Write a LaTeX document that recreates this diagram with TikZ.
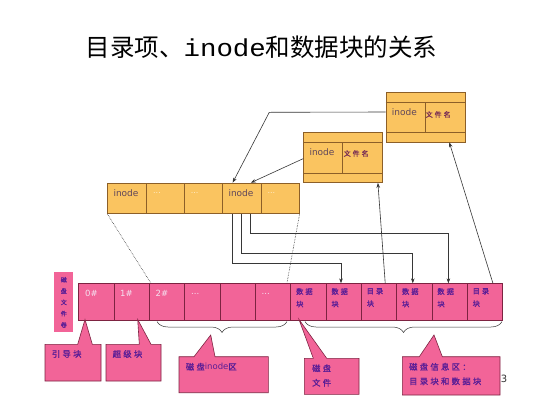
\documentclass[tikz,border=0pt]{standalone}
\usepackage{fontspec}
\newfontfamily\cjk{Noto Sans CJK SC}
\newfontfamily\cjks{Noto Sans CJK SC}[LetterSpace=28,FakeBold=1.2]
\newfontfamily\cjkb{Noto Sans CJK SC}[FakeBold=1]
\newfontfamily\lsans{DejaVu Sans}
\setmonofont{Liberation Mono}
\usetikzlibrary{arrows.meta,decorations.pathreplacing,calc}
\definecolor{pinkfill}{RGB}{242,100,152}
\definecolor{pinkdraw}{RGB}{125,35,65}
\definecolor{orfill}{RGB}{250,196,96}
\definecolor{ordraw}{RGB}{140,95,40}
\definecolor{purp}{RGB}{90,30,150}
\definecolor{maroon}{RGB}{120,45,85}
\definecolor{inodec}{RGB}{95,70,90}
\definecolor{lightt}{RGB}{245,225,240}
\definecolor{lighto}{RGB}{255,236,200}
\definecolor{linegray}{RGB}{55,55,55}
\begin{document}
\begin{tikzpicture}[x=1pt,y=-1pt,
  pcell/.style={draw=pinkdraw,fill=pinkfill,line width=0.6pt,minimum width=35.33pt,minimum height=36.7pt,inner sep=0pt,anchor=north west},
  ocell/.style={draw=ordraw,fill=orfill,line width=0.6pt,minimum width=38.34pt,minimum height=30.6pt,inner sep=0pt,anchor=north west},
  obox/.style={draw=ordraw,fill=orfill,line width=0.6pt,minimum width=79pt,minimum height=50pt,inner sep=0pt,anchor=north west},
  oline/.style={draw=ordraw,line width=0.6pt},
  callout/.style={draw=pinkdraw,fill=pinkfill,line width=0.6pt,line join=miter},
  numt/.style={font=\lsans\fontsize{8.5}{10}\selectfont,text=lightt,anchor=west,inner sep=0pt},
  blkt/.style={font=\cjks\fontsize{7.2}{12.5}\selectfont,text=purp,anchor=north west,align=left,inner sep=0pt},
  inodet/.style={font=\lsans\fontsize{9}{10}\selectfont,text=inodec,anchor=west,inner sep=0pt},
  dotst/.style={font=\lsans\fontsize{8}{10}\selectfont,text=lighto,anchor=west,inner sep=0pt},
  namet/.style={font=\cjks\fontsize{7}{8}\selectfont,text=maroon,anchor=west,inner sep=0pt},
  callt/.style={font=\cjks\fontsize{8.3}{14.5}\selectfont,text=purp,anchor=west,align=left,inner sep=0pt},
  conn/.style={draw=linegray,line width=0.6pt},
  arr/.style={conn,-{Stealth[length=5pt,width=3.6pt]}},
  dotl/.style={draw=linegray,line width=0.6pt,densely dotted},
  brc/.style={draw=linegray,line width=0.5pt,decorate,decoration={brace,mirror,amplitude=11pt}}]
\useasboundingbox (0,0) rectangle (540,405);
\fill[white] (0,0) rectangle (540,405);

% title
\node[font=\cjk\fontsize{24.5}{30}\selectfont,inner sep=0pt] (title) at (261.5,47)
  {目录项、\scalebox{1.12}[1]{\ttfamily inode}和数据块的关系};

% directory blocks (orange)
\node[obox] (d2) at (385.7,91.7) {};
\draw[oline] ([yshift=-10.3pt]d2.north west) -- ([yshift=-10.3pt]d2.north east);
\draw[oline] ([yshift=9.7pt]d2.south west) -- ([yshift=9.7pt]d2.south east);
\draw[oline] ([xshift=39.3pt,yshift=-10.3pt]d2.north west) -- ([xshift=39.3pt,yshift=9.7pt]d2.south west);
\node[inodet] (d2i) at (391.7,111.7) {inode};
\node[namet] (d2n) at (425.5,114.5) {文件名};

\node[obox] (d1) at (303.3,132.3) {};
\draw[oline] ([yshift=-10pt]d1.north west) -- ([yshift=-10pt]d1.north east);
\draw[oline] ([yshift=9.6pt]d1.south west) -- ([yshift=9.6pt]d1.south east);
\draw[oline] ([xshift=39.4pt,yshift=-10pt]d1.north west) -- ([xshift=39.4pt,yshift=9.6pt]d1.south west);
\node[inodet] (d1i) at (309.3,151.7) {inode};
\node[namet] (d1n) at (343.5,153.5) {文件名};

% inode table
\foreach \i in {1,...,5} {
  \node[ocell] (t\i) at ({107.3+(\i-1)*38.34},182.7) {};
}
\node[inodet] (t1x) at (113.3,192.7) {inode};
\node[dotst] (t2x) at (153,192.5) {...};
\node[dotst] (t3x) at (190.7,192.5) {...};
\node[inodet] (t4x) at (228.3,192.7) {inode};
\node[dotst] (t5x) at (267.3,192.5) {...};

% disk strip
\foreach \i in {1,...,12} {
  \node[pcell] (c\i) at ({78.3+(\i-1)*35.333},283.3) {};
}
\node[numt] (c1x) at (85,293.5) {0\#};
\node[numt] (c2x) at (120,293.5) {1\#};
\node[numt] (c3x) at (155.5,293.5) {2\#};
\node[numt] (c4x) at (191,293.5) {...};
\node[numt] (c6x) at (261.5,293.5) {...};
\node[blkt] (c7x) at (296,288) {数据\\块};
\node[blkt] (c8x) at (331.3,288) {数据\\块};
\node[blkt] (c9x) at (366.6,288) {目录\\块};
\node[blkt] (c10x) at (401.9,288) {数据\\块};
\node[blkt] (c11x) at (437.2,288) {数据\\块};
\node[blkt] (c12x) at (472.5,288) {目录\\块};

% volume label
\fill[pinkfill] (54.3,272.3) rectangle (73.3,332.3);
\node[font=\cjkb\fontsize{6}{11.3}\selectfont,text=purp,align=center,inner sep=0pt] (vol) at (63.8,302.3) {磁\\盘\\文\\件\\卷};

% connectors from directory entries to inode table
\coordinate (bend) at (269.3,112.3);
\draw[arr] ([yshift=5pt]d2.west) -- (bend) -- ([xshift=10.3pt]t4.north west);
\draw[arr] ([yshift=-1pt]d1.west) -- ([xshift=28.5pt]t4.north west);

% inode to data blocks
\draw[arr] ([xshift=10.3pt]t4.south west) |- ([xshift=-2.6pt,yshift=20pt]c8.north) -- ([xshift=-2.6pt]c8.north);
\draw[arr] ([xshift=19.3pt]t4.south west) |- ([xshift=-1.5pt,yshift=30pt]c10.north) -- ([xshift=-1.5pt]c10.north);
\draw[arr] ([xshift=28pt]t4.south west) |- ([xshift=-1.2pt,yshift=50pt]c11.north) -- ([xshift=-1.2pt]c11.north);

% directory blocks to directory entries
\draw[arr] ([xshift=6.3pt]c9.north) -- ([xshift=-5pt]d1.south east);
\draw[arr] ([xshift=8pt]c12.north) -- ([xshift=-16pt]d2.south east);

% dotted
\draw[dotl] (t1.south west) -- ([xshift=2pt]c3.north west);
\draw[dotl] (t5.south east) -- ([xshift=-4pt]c6.north east);

% braces
\coordinate (b1a) at (157,321.5);
\coordinate (b1b) at (287,321.5);
\coordinate (b2a) at (305,321.5);
\coordinate (b2b) at (502,321.5);
\draw[brc] (b1a) -- (b1b);
\draw[brc] (b2a) -- (b2b);

% page number (partly hidden)
\node[font=\lsans\fontsize{10}{12}\selectfont,text=black!80,anchor=east,inner sep=0pt] (pg) at (507.5,378.5) {33};

% callouts
\draw[callout] (45,344.3) -- (77.7,344.3) -- (85,319.5) -- (92.3,344.3) -- (101,344.3) -- (101,381) -- (45,381) -- cycle;
\node[callt] (k1) at (51.7,354) {引导块};
\draw[callout] (106,344.3) -- (139.3,344.3) -- (137.7,319.5) -- (151,344.3) -- (161,344.3) -- (161,381) -- (106,381) -- cycle;
\node[callt] (k2) at (112.5,354) {超级块};
\draw[callout] (179,356.7) -- (194,356.7) -- (210.7,335) -- (215,356.7) -- (268.3,356.7) -- (268.3,392.7) -- (179,392.7) -- cycle;
\node[callt] (k3) at (185.7,366.7) {磁盘{\lsans\fontsize{8.5}{10}\selectfont inode}区};
\draw[callout] (304.3,358.3) -- (313.3,358.3) -- (299,319.5) -- (326.7,358.3) -- (359,358.3) -- (359,394.3) -- (304.3,394.3) -- cycle;
\node[callt] (k4) at (312,375.5) {磁盘\\文件};
\draw[callout] (402.3,356.7) -- (419.3,356.7) -- (434,335) -- (442.3,356.7) -- (500,356.7) -- (500,395) -- (402.3,395) -- cycle;
\node[callt] (k5) at (409,374) {磁盘信息区：\\目录块和数据块};
\end{tikzpicture}
\end{document}
